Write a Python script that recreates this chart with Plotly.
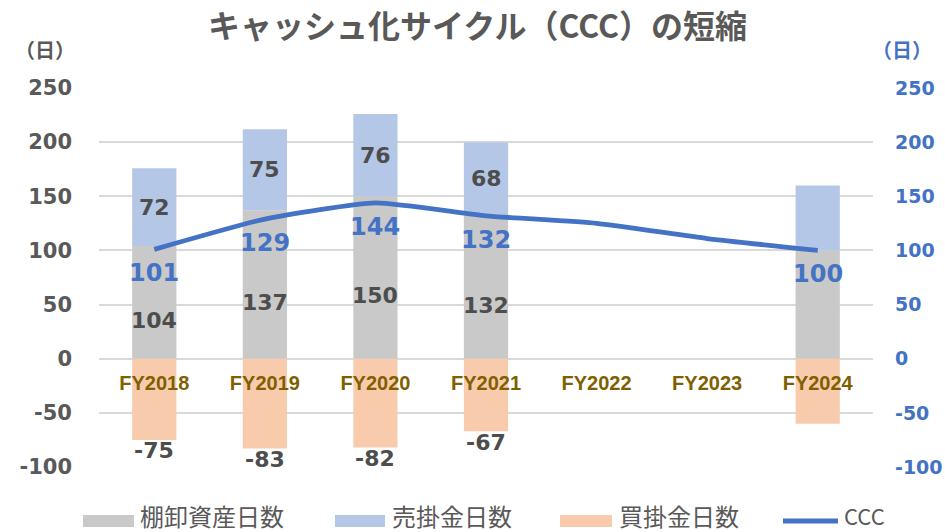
import plotly.graph_objects as go

categories = ["FY2018", "FY2019", "FY2020", "FY2021", "FY2022", "FY2023", "FY2024"]
inventory_days = [104, 137, 150, 132, None, None, 100]
receivable_days = [72, 75, 76, 68, None, None, 60]
payable_days = [-75, -83, -82, -67, None, None, -60]
ccc_days = [101, 129, 144, 132, 125, 111, 100]
show_bar_labels = [True, True, True, True, False, False, False]
show_ccc_labels = [True, True, True, True, False, False, True]
y_ticks = [-100, -50, 0, 50, 100, 150, 200, 250]
y_tick_labels = ["-100", "-50", "0", "50", "100", "150", "200", "250"]
series_names = ["棚卸資産日数", "売掛金日数", "買掛金日数", "CCC"]

GRAY = "#C9C9C9"
BLUE_L = "#B4C7E7"
ORANGE_L = "#F8CBAD"
BLUE = "#4472C4"
TXT = "#595959"
LBL = "#4D4D4D"
NUMFONT = "DejaVu Sans"
JPFONT = "Noto Sans CJK JP"

# plot area in pixels
L, R, T, B = 99, 873, 88, 467
W, H = R - L, B - T


def px_x(p):
    return (p - L) / W


def px_y(p):
    return (B - p) / H


fig = go.Figure()
fig.add_trace(go.Bar(x=categories, y=inventory_days, name=series_names[0],
                     marker=dict(color=GRAY, line=dict(width=0)), width=0.4))
fig.add_trace(go.Bar(x=categories, y=receivable_days, name=series_names[1],
                     marker=dict(color=BLUE_L, line=dict(width=0)), width=0.4))
fig.add_trace(go.Bar(x=categories, y=payable_days, name=series_names[2],
                     marker=dict(color=ORANGE_L, line=dict(width=0)), width=0.4))
fig.add_trace(go.Scatter(x=categories, y=ccc_days, name=series_names[3], mode="lines",
                         line=dict(color=BLUE, width=4.8, shape="spline", smoothing=0.5),
                         yaxis="y2"))

ann = []
for i, c in enumerate(categories):
    if show_bar_labels[i]:
        ann.append(dict(x=c, y=inventory_days[i] / 2, text=str(inventory_days[i]), showarrow=False,
                        yshift=-18, font=dict(family=NUMFONT, size=22, color=LBL, weight="bold")))
        ann.append(dict(x=c, y=inventory_days[i] + receivable_days[i] / 2, text=str(receivable_days[i]),
                        showarrow=False, font=dict(family=NUMFONT, size=22, color=LBL, weight="bold")))
        ann.append(dict(x=c, y=payable_days[i], text=str(payable_days[i]), showarrow=False,
                        yshift=-11, font=dict(family=NUMFONT, size=22, color=LBL, weight="bold")))
    if show_ccc_labels[i]:
        ann.append(dict(x=c, y=ccc_days[i], xref="x", yref="y2", text=str(ccc_days[i]), showarrow=False,
                        yshift=-24, font=dict(family=NUMFONT, size=24, color=BLUE, weight="bold")))

# title and unit labels
ann.append(dict(xref="paper", yref="paper", x=px_x(477), y=px_y(24), xanchor="center", yanchor="middle",
                text="キャッシュ化サイクル（CCC）の短縮", showarrow=False,
                font=dict(family=JPFONT, size=32, color=TXT, weight="bold")))
ann.append(dict(xref="paper", yref="paper", x=px_x(45), y=px_y(50), xanchor="center", yanchor="middle",
                text="（日）", showarrow=False, font=dict(family=JPFONT, size=20, color=TXT, weight="bold")))
ann.append(dict(xref="paper", yref="paper", x=px_x(902), y=px_y(50), xanchor="center", yanchor="middle",
                text="（日）", showarrow=False, font=dict(family=JPFONT, size=20, color=BLUE, weight="bold")))

# custom legend
shapes = []
legend_items = [
    (series_names[0], GRAY, 83, 134, 138, "rect"),
    (series_names[1], BLUE_L, 335, 385, 390, "rect"),
    (series_names[2], ORANGE_L, 560, 612, 617, "rect"),
    (series_names[3], BLUE, 783, 838, 842, "line"),
]
for name, col, x0, x1, tx, kind in legend_items:
    if kind == "rect":
        shapes.append(dict(type="rect", xref="paper", yref="paper", x0=px_x(x0), x1=px_x(x1),
                           y0=px_y(527), y1=px_y(515), fillcolor=col, line=dict(width=0)))
    else:
        shapes.append(dict(type="line", xref="paper", yref="paper", x0=px_x(x0), x1=px_x(x1),
                           y0=px_y(521), y1=px_y(521), line=dict(color=col, width=5)))
    ann.append(dict(xref="paper", yref="paper", x=px_x(tx), y=px_y(515), xanchor="left", yanchor="middle",
                    text=name, showarrow=False,
                    font=dict(family=JPFONT, size=24 if kind == "rect" else 22, color=TXT)))

grid = dict(showgrid=True, gridcolor="#D9D9D9", gridwidth=1.5, zeroline=True,
            zerolinecolor="#D9D9D9", zerolinewidth=1.5)

fig.update_layout(
    width=945, height=532,
    margin=dict(l=L, r=945 - R, t=T, b=532 - B, autoexpand=False),
    paper_bgcolor="white", plot_bgcolor="white",
    barmode="relative",
    showlegend=False,
    xaxis=dict(anchor="free", position=100 / 350, showgrid=False, showline=False, ticks="",
               ticklabelstandoff=10, automargin=False,
               tickfont=dict(family="Liberation Sans", size=20, color="#7F6000", weight="bold")),
    yaxis=dict(range=[-100, 250], tickvals=y_ticks, ticktext=y_tick_labels, ticklabelstandoff=26,
               automargin=False,
               tickfont=dict(family=NUMFONT, size=21, color=TXT, weight="bold"), **grid),
    yaxis2=dict(range=[-100, 250], tickvals=y_ticks, ticktext=y_tick_labels, overlaying="y", side="right",
                showgrid=False, zeroline=False, ticklabelstandoff=21, automargin=False,
                tickfont=dict(family=NUMFONT, size=19, color=BLUE, weight="bold")),
    annotations=ann,
    shapes=shapes,
)

fig.write_html("out.html", config={"displayModeBar": False},
               post_script="document.body.style.margin='0';document.body.style.overflow='hidden';")
